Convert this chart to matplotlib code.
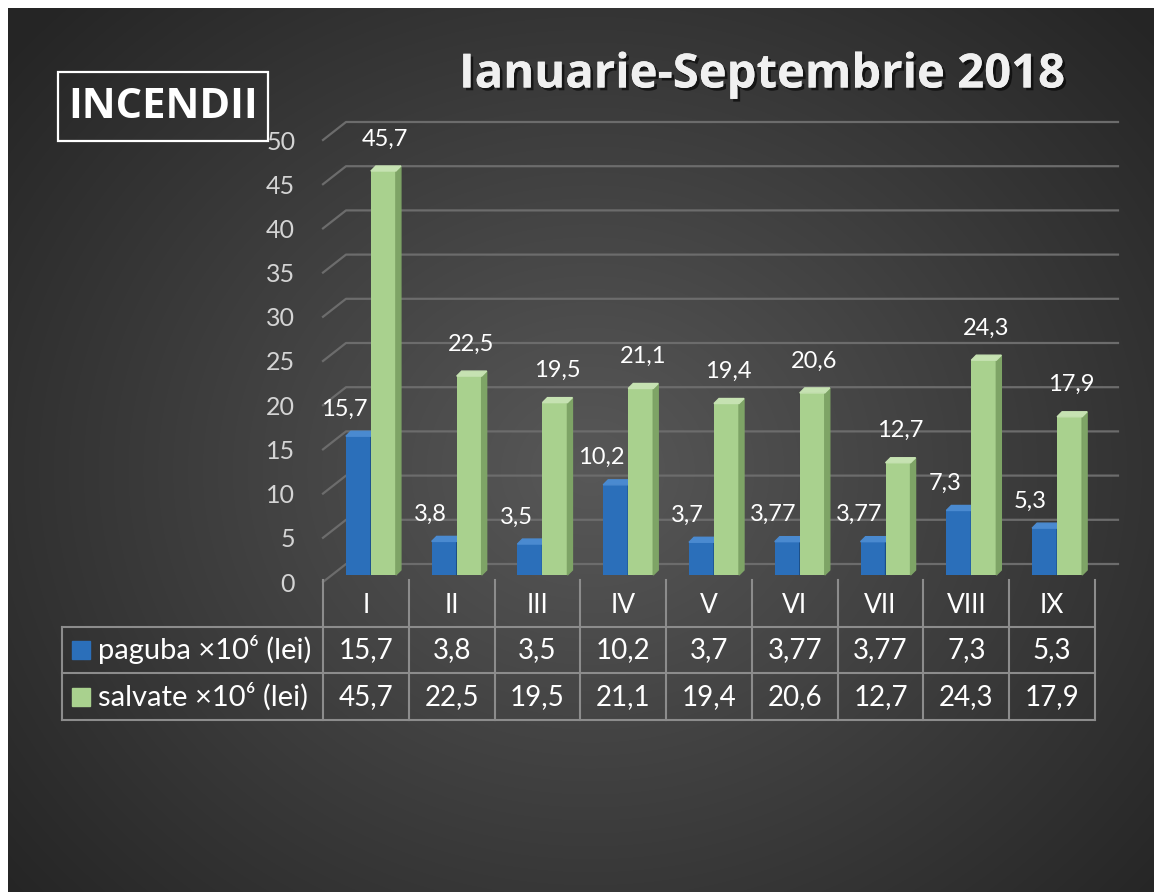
import numpy as np
import matplotlib.pyplot as plt
from matplotlib.patches import Polygon, Rectangle
import matplotlib.patheffects as pe

plt.rcParams['font.family'] = ['Lato', 'DejaVu Sans']

# data
months = ['I', 'II', 'III', 'IV', 'V', 'VI', 'VII', 'VIII', 'IX']
paguba = [15.7, 3.8, 3.5, 10.2, 3.7, 3.77, 3.77, 7.3, 5.3]
salvate = [45.7, 22.5, 19.5, 21.1, 19.4, 20.6, 12.7, 24.3, 17.9]
series_names = ['paguba ×10⁶ (lei)', 'salvate ×10⁶ (lei)']
yticks = [0, 5, 10, 15, 20, 25, 30, 35, 40, 45, 50]

blue = ['#2b6fba', '#1c4e86', '#4a8ad0']    # front, side, top
green = ['#a9d18e', '#7ea466', '#c6e2b2']

W, H = 1154, 892


def px(x0, y0, x1, y1):
    return [x0 / W, 1 - y1 / H, (x1 - x0) / W, (y1 - y0) / H]


def fmt(v):
    return ('%g' % v).replace('.', ',')


fig = plt.figure(figsize=(W / 100, H / 100), dpi=100, facecolor='white')

# dark radial background
bg = fig.add_axes(px(8, 8, W, H))
yy, xx = np.mgrid[8:H, 8:W]
d = np.clip(np.hypot(xx - 590, (yy - 470) * 1.15) / 760, 0, 1)
g = (0x58 * (1 - d) + 0x25 * d) / 255
bg.imshow(np.dstack([g, g, g]), aspect='auto', interpolation='bilinear')
bg.set_axis_off()

# main plot (front plane)
ax = fig.add_axes(px(323, 140, 1095, 582))
ax.set_xlim(-0.5, 8.5)
ax.set_ylim(0, 50)
ax.patch.set_alpha(0)
for s in ax.spines.values():
    s.set_visible(False)
ax.set_xticks([])
ax.set_yticks(yticks)
ax.tick_params(axis='y', length=0, pad=20, labelsize=18, labelcolor='#d4d4d4')

cw = 772 / 9.0          # px per category
ph = 442 / 50.0         # px per value unit
gdx, gdy = 23 / cw, 18 / ph   # back wall depth
bdx, bdy = 5 / cw, 7 / ph     # bar position depth
sdx, sdy = 5 / cw, 5 / ph     # bar side/top depth
w = 25 / cw

for v in yticks:
    ax.plot([-0.5, -0.5 + gdx, 8.5 + gdx], [v, v + gdy, v + gdy],
            color='#6c6c6c', lw=1.6, clip_on=False, zorder=1)

x = np.arange(len(months))


def bars3d(xc, vals, cols):
    ax.bar(xc, vals, width=w, bottom=bdy, color=cols[0], zorder=3)
    for xi, v in zip(xc, vals):
        r = xi + w / 2
        l = xi - w / 2
        top = v + bdy
        ax.add_patch(Polygon([(r, bdy), (r + sdx, bdy + sdy), (r + sdx, top + sdy), (r, top)],
                             closed=True, color=cols[1], zorder=3))
        ax.add_patch(Polygon([(l, top), (l + sdx, top + sdy), (r + sdx, top + sdy), (r, top)],
                             closed=True, color=cols[2], zorder=3))


xb = x - w / 2 + bdx
xg = x + w / 2 + bdx
bars3d(xb, paguba, blue)
bars3d(xg, salvate, green)

for xi, v in zip(xb, paguba):
    ax.annotate(fmt(v), (xi, v + bdy), xytext=(-14, 27), textcoords='offset pixels',
                ha='center', va='center', fontsize=17, color='white', zorder=5)
for xi, v in zip(xg, salvate):
    ax.annotate(fmt(v), (xi, v + bdy), xytext=(2, 32), textcoords='offset pixels',
                ha='center', va='center', fontsize=17, color='white', zorder=5)

# data table
tax = fig.add_axes(px(62, 580, 1095, 720))
xl = -0.5 - 261 / cw
tax.set_xlim(xl, 8.5)
tax.set_ylim(0, 3)
tax.set_axis_off()
lc = '#8c8c8c'
for k in range(len(months) + 1):
    tax.plot([k - 0.5, k - 0.5], [0, 3], color=lc, lw=1.5, clip_on=False)
tax.plot([xl, xl], [0, 2], color=lc, lw=1.5, clip_on=False)
for yv in [0, 1, 2]:
    tax.plot([xl, 8.5], [yv, yv], color=lc, lw=1.5, clip_on=False)

rh = 140 / 3.0
for i, m in enumerate(months):
    tax.text(i, 2.45, m, ha='center', va='center', fontsize=19, color='white')
    tax.text(i, 1.5, fmt(paguba[i]), ha='center', va='center', fontsize=20, color='white')
    tax.text(i, 0.5, fmt(salvate[i]), ha='center', va='center', fontsize=20, color='white')

for row, (name, col) in enumerate(zip(series_names, [blue[0], green[0]])):
    yc = 1.5 - row
    tax.add_patch(Rectangle((xl + 10 / cw, yc - 9 / rh), 18 / cw, 18 / rh, color=col))
    tax.text(xl + 36 / cw, yc, name, ha='left', va='center', fontsize=21, color='white')

# titles
fig.text(762 / W, 1 - 75 / H, 'Ianuarie-Septembrie 2018', ha='center', va='center',
         fontsize=34, fontweight='bold', family=['Open Sans', 'DejaVu Sans'], color='#f0f0f0',
         path_effects=[pe.withSimplePatchShadow(offset=(2, -2), shadow_rgbFace='black', alpha=0.6),
                       pe.Normal()])
fig.text(163 / W, 1 - 107 / H, 'INCENDII', ha='center', va='center', fontsize=30,
         fontweight='bold', family=['Open Sans', 'DejaVu Sans'], color='white')
fig.add_artist(Rectangle((58 / W, 1 - 141 / H), 210 / W, 69 / H, transform=fig.transFigure,
                         fill=False, edgecolor='white', lw=1.6))

fig.savefig('out.png', dpi=100, facecolor='white')
